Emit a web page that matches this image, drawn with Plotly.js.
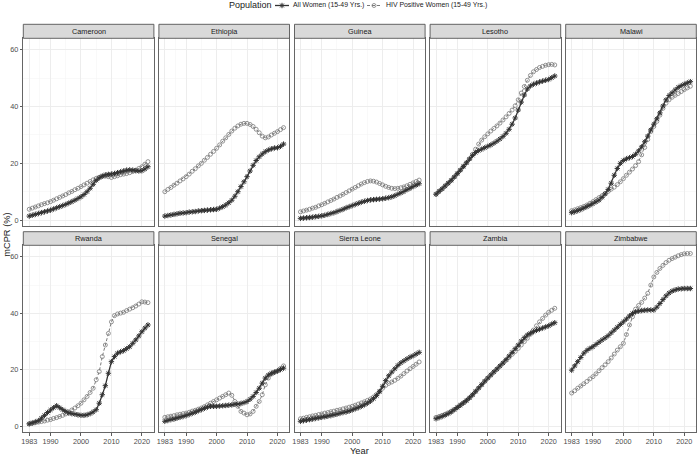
<!DOCTYPE html>
<html>
<head>
<meta charset="utf-8">
<script src="https://cdn.plot.ly/plotly-3.0.1.min.js"></script>
<style>html,body{margin:0;padding:0;background:#fff;}#chart{width:700px;height:455px;}</style>
</head>
<body>
<div id="chart"></div>
<script>
const years = [1983,1984,1985,1986,1987,1988,1989,1990,1991,1992,1993,1994,1995,1996,1997,1998,1999,2000,2001,2002,2003,2004,2005,2006,2007,2008,2009,2010,2011,2012,2013,2014,2015,2016,2017,2018,2019,2020,2021,2022];
const countries = ["Cameroon","Ethiopia","Guinea","Lesotho","Malawi","Rwanda","Senegal","Sierra Leone","Zambia","Zimbabwe"];
const seriesNames = ["All Women (15-49 Yrs.)","HIV Positive Women (15-49 Yrs.)"];
const legendTitle = "Population";
const xTickVals = [1983,1990,2000,2010,2020];
const xMinorVals = [1986.5,1995,2005,2015];
const yTickVals = [0,20,40,60];
const yMinorVals = [10,30,50];

const allCameroon = [1.4,1.7,2.0,2.3,2.6,2.9,3.2,3.5,3.9,4.3,4.7,5.1,5.5,6.0,6.5,7.0,7.6,8.2,9.0,10.0,11.2,12.6,14.0,14.9,15.5,15.9,16.1,16.2,16.4,16.7,17.0,17.3,17.6,17.7,17.6,17.4,17.3,17.4,18.0,18.8];
const hivCameroon = [3.8,4.2,4.6,5.0,5.4,5.8,6.1,6.5,7.0,7.5,8.0,8.5,9.0,9.6,10.1,10.7,11.2,11.8,12.4,13.0,13.6,14.2,14.7,15.1,15.4,15.5,15.3,15.0,15.3,15.6,16.0,16.2,16.4,16.7,17.1,17.6,18.2,18.8,19.7,20.6];
const allEthiopia = [1.4,1.6,1.8,2.0,2.2,2.4,2.5,2.6,2.8,2.9,3.0,3.2,3.3,3.4,3.5,3.6,3.7,3.8,4.2,4.7,5.3,6.1,7.0,8.4,10.0,11.8,13.5,15.3,17.3,19.3,21.0,22.3,23.3,24.1,24.7,25.1,25.4,25.5,26.0,26.8];
const hivEthiopia = [10.0,10.8,11.5,12.3,13.0,13.8,14.5,15.3,16.2,17.2,18.1,19.1,20.0,21.1,22.1,23.2,24.2,25.3,26.5,27.8,29.0,30.2,31.4,32.4,33.2,33.8,34.1,34.1,33.7,33.0,32.0,30.8,29.6,29.0,29.3,30.0,30.6,31.2,31.9,32.6];
const allGuinea = [0.6,0.7,0.8,0.9,1.0,1.2,1.3,1.5,1.7,2.0,2.3,2.6,3.0,3.4,3.8,4.3,4.7,5.1,5.5,5.9,6.3,6.6,6.9,7.1,7.2,7.3,7.4,7.5,7.7,7.9,8.2,8.6,9.1,9.6,10.1,10.7,11.2,11.8,12.3,12.8];
const hivGuinea = [2.9,3.2,3.5,3.8,4.2,4.5,5.0,5.4,5.9,6.4,6.9,7.4,8.0,8.5,9.1,9.7,10.3,10.9,11.5,12.1,12.7,13.2,13.6,13.8,13.7,13.4,12.9,12.4,11.9,11.5,11.2,11.1,11.2,11.4,11.7,12.1,12.6,13.1,13.6,14.1];
const allLesotho = [9.1,10.1,11.0,12.0,13.0,14.0,15.2,16.4,17.6,18.9,20.2,21.5,22.8,23.8,24.5,25.0,25.5,26.0,26.5,27.1,27.8,28.6,29.5,30.6,32.0,33.8,36.0,38.8,41.6,44.1,46.2,47.3,47.9,48.3,48.7,49.0,49.3,49.6,50.2,50.8];
const hivLesotho = [9.1,10.1,11.0,12.0,13.0,14.0,15.2,16.4,17.6,18.9,20.2,21.6,23.2,25.0,26.8,28.2,29.4,30.4,31.4,32.3,33.2,34.2,35.3,36.4,37.6,38.8,40.3,42.4,44.8,47.1,49.3,51.0,52.3,53.1,53.8,54.2,54.6,54.8,54.9,54.7];
const allMalawi = [2.6,2.9,3.3,3.7,4.2,4.7,5.2,5.8,6.4,7.0,8.0,9.2,10.8,13.0,15.8,18.2,20.0,21.0,21.6,22.0,22.4,23.2,24.4,25.8,27.6,29.6,31.8,33.8,35.7,37.8,40.2,42.4,43.9,44.9,45.9,46.8,47.4,47.9,48.4,48.8];
const hivMalawi = [3.3,3.6,4.0,4.4,4.8,5.3,5.9,6.5,7.2,7.9,8.6,9.4,10.1,10.9,11.6,12.5,13.5,14.6,15.8,16.9,18.0,19.2,20.6,23.0,25.6,28.4,31.2,33.0,34.8,37.0,39.4,41.2,42.4,43.3,44.0,44.6,45.3,46.0,46.6,47.2];
const allRwanda = [0.9,1.2,1.6,2.0,2.9,3.9,4.9,5.8,6.6,7.3,6.6,5.9,5.3,4.7,4.5,4.3,4.1,3.9,3.9,4.1,4.5,5.1,5.9,8.2,11.2,14.4,18.8,22.9,24.7,25.9,26.4,26.8,27.5,28.2,29.4,30.6,32.0,33.5,34.8,35.9];
const hivRwanda = [0.9,1.1,1.3,1.5,1.7,1.9,2.2,2.4,2.8,3.1,3.5,3.9,4.4,5.1,5.8,6.5,7.3,8.2,9.4,10.6,12.0,13.5,16.5,19.4,24.7,28.8,32.9,37.0,39.2,39.8,40.1,40.4,41.0,41.5,42.0,42.6,43.3,44.1,44.0,43.8];
const allSenegal = [1.8,2.1,2.4,2.6,2.9,3.2,3.5,3.8,4.2,4.6,5.0,5.5,5.9,6.4,6.8,7.1,7.1,7.1,7.2,7.3,7.4,7.5,7.6,7.8,7.9,8.1,8.4,8.8,9.6,10.6,12.0,13.5,15.3,17.1,18.2,18.8,19.2,19.6,20.1,20.6];
const hivSenegal = [3.2,3.4,3.6,3.8,4.1,4.3,4.5,4.7,5.0,5.4,5.7,6.1,6.5,7.0,7.6,8.2,8.8,9.4,10.0,10.6,11.2,11.8,11.0,8.8,7.1,5.3,4.7,4.1,4.4,5.3,7.1,8.8,11.2,14.7,17.1,18.5,19.1,19.6,20.5,21.4];
const allSierraLeone = [1.8,2.0,2.2,2.4,2.6,2.8,3.0,3.2,3.4,3.6,3.8,4.1,4.3,4.6,4.9,5.1,5.4,5.8,6.2,6.6,7.1,7.6,8.2,8.9,9.8,10.9,12.3,14.2,16.2,17.9,19.2,20.4,21.6,22.5,23.2,23.9,24.5,25.0,25.6,26.2];
const hivSierraLeone = [2.7,2.9,3.2,3.4,3.7,3.9,4.2,4.4,4.7,4.9,5.2,5.4,5.7,5.9,6.2,6.5,6.8,7.1,7.5,7.9,8.3,8.7,9.2,9.7,10.4,11.3,12.4,13.5,14.5,15.2,15.7,16.3,17.0,17.8,18.7,19.6,20.4,21.2,22.0,22.8];
const allZambia = [2.7,3.1,3.5,4.0,4.5,5.1,5.9,6.7,7.5,8.3,9.1,10.1,11.2,12.4,13.6,14.8,16.0,17.1,18.2,19.3,20.3,21.4,22.4,23.6,24.9,26.2,27.5,28.8,30.2,31.4,32.4,33.0,33.5,34.0,34.4,34.8,35.2,35.6,36.2,36.7];
const hivZambia = [3.2,3.5,3.9,4.3,4.8,5.4,6.0,6.7,7.5,8.3,9.2,10.1,11.1,12.3,13.5,14.7,15.9,17.1,18.2,19.2,20.2,21.3,22.4,23.4,24.4,25.5,26.5,27.6,28.8,30.0,31.2,32.6,34.1,35.6,37.0,38.2,39.4,40.4,41.1,41.8];
const allZimbabwe = [19.9,21.4,22.9,24.4,25.9,26.9,27.6,28.2,29.0,29.8,30.6,31.3,32.1,33.1,34.1,35.1,36.1,37.0,38.0,39.1,40.0,40.5,40.8,41.0,41.1,41.2,41.2,41.2,42.2,43.5,44.9,46.2,47.2,47.9,48.3,48.6,48.7,48.8,48.8,48.8];
const hivZimbabwe = [11.8,12.6,13.5,14.3,15.1,15.9,16.8,17.6,18.6,19.7,20.8,21.8,22.9,24.2,25.6,27.0,28.2,29.4,32.5,35.9,38.8,41.5,42.8,43.9,45.4,47.1,50.0,52.9,54.5,55.9,57.0,58.0,58.8,59.4,59.9,60.4,60.8,61.1,61.2,61.2];

const allWomen = [allCameroon,allEthiopia,allGuinea,allLesotho,allMalawi,allRwanda,allSenegal,allSierraLeone,allZambia,allZimbabwe];
const hivWomen = [hivCameroon,hivEthiopia,hivGuinea,hivLesotho,hivMalawi,hivRwanda,hivSenegal,hivSierraLeone,hivZambia,hivZimbabwe];

const W = 700, H = 455;
const FONT = "Liberation Sans, Arial, Helvetica, sans-serif";
const panelLeft = 23.3, panelW = 130.6, panelStep = 135.6;
const rowPlot = [[38.3,226],[245.3,432.3]];
const rowStrip = [[24.3,38.3],[231.7,245.3]];
const py = v => 1 - v / H;

const styleAll = {line: {color: '#333333', width: 1.3},
  marker: {symbol: 'asterisk-open', size: 4.5, color: '#333333', line: {color: '#333333', width: 1}}};
const styleHiv = {line: {color: '#7a7a7a', width: 1, dash: '3px,2px'},
  marker: {symbol: 'circle-open', size: 4, color: '#7a7a7a', line: {color: '#7a7a7a', width: 0.8}}};
const clone = o => JSON.parse(JSON.stringify(o));

const traces = [];
const layout = {
  width: W, height: H,
  margin: {l:0, r:0, t:0, b:0},
  paper_bgcolor: '#ffffff',
  plot_bgcolor: 'rgba(0,0,0,0)',
  font: {family: FONT, color: '#1a1a1a'},
  showlegend: false,
  shapes: [], annotations: []
};

countries.forEach((c, i) => {
  const row = i < 5 ? 0 : 1, col = i % 5;
  const ax = i === 0 ? '' : String(i + 1);
  const x0 = panelLeft + panelStep * col, x1 = x0 + panelW;
  const xd = [x0 / W, x1 / W];
  const yd = [py(rowPlot[row][1]), py(rowPlot[row][0])];
  layout['xaxis' + ax] = {
    domain: xd, anchor: 'y' + ax, range: [1981.05, 2023.95],
    tickmode: 'array', tickvals: xTickVals, ticktext: xTickVals.map(String),
    showticklabels: row === 1, ticks: row === 1 ? 'outside' : '', ticklen: 2.5, tickwidth: 0.8, tickcolor: '#333333',
    tickfont: {size: 7.3, color: '#4d4d4d', family: FONT},
    showgrid: true, gridcolor: '#ebebeb', gridwidth: 0.9,
    minor: {tickmode: 'array', tickvals: xMinorVals, showgrid: true, gridcolor: '#f4f4f4', gridwidth: 0.5, ticks: ''},
    zeroline: false, showline: true, mirror: true, linecolor: '#555555', linewidth: 0.9,
    fixedrange: true
  };
  layout['yaxis' + ax] = {
    domain: yd, anchor: 'x' + ax, range: [-2.1, 64.1],
    tickmode: 'array', tickvals: yTickVals, ticktext: yTickVals.map(String),
    showticklabels: col === 0, ticks: col === 0 ? 'outside' : '', ticklen: 2.5, tickwidth: 0.8, tickcolor: '#333333',
    tickfont: {size: 7.3, color: '#4d4d4d', family: FONT},
    showgrid: true, gridcolor: '#ebebeb', gridwidth: 0.9,
    minor: {tickmode: 'array', tickvals: yMinorVals, showgrid: true, gridcolor: '#f4f4f4', gridwidth: 0.5, ticks: ''},
    zeroline: false, showline: true, mirror: true, linecolor: '#555555', linewidth: 0.9,
    fixedrange: true
  };
  layout.shapes.push({
    type: 'rect', xref: 'paper', yref: 'paper',
    x0: xd[0], x1: xd[1], y0: py(rowStrip[row][1]), y1: py(rowStrip[row][0]),
    fillcolor: '#d9d9d9', line: {color: '#555555', width: 0.9}, layer: 'above'
  });
  layout.annotations.push({
    xref: 'paper', yref: 'paper', x: (xd[0] + xd[1]) / 2, y: (py(rowStrip[row][1]) + py(rowStrip[row][0])) / 2,
    text: c, showarrow: false, xanchor: 'center', yanchor: 'middle',
    font: {size: 7.3, color: '#1a1a1a', family: FONT}
  });
  traces.push(Object.assign({
    type: 'scatter', mode: 'lines+markers', x: years, y: hivWomen[i],
    xaxis: 'x' + ax, yaxis: 'y' + ax, name: seriesNames[1]
  }, clone(styleHiv)));
  traces.push(Object.assign({
    type: 'scatter', mode: 'lines+markers', x: years, y: allWomen[i],
    xaxis: 'x' + ax, yaxis: 'y' + ax, name: seriesNames[0]
  }, clone(styleAll)));
});

// Hand-drawn legend on a transparent pixel-space overlay axis (matches ggplot's compact key layout)
layout.xaxis11 = {domain: [0, 1], range: [0, W], visible: false, showgrid: false, zeroline: false, fixedrange: true, anchor: 'y11'};
layout.yaxis11 = {domain: [0, 1], range: [H, 0], visible: false, showgrid: false, zeroline: false, fixedrange: true, anchor: 'x11'};
const legY = 5.5;
const legKeys = [[275, 289], [367, 381]];
const legTextX = [291, 384];
layout.annotations.push({
  xref: 'paper', yref: 'paper', x: 226.5 / W, y: py(legY), text: legendTitle, showarrow: false,
  xanchor: 'left', yanchor: 'middle', font: {size: 9, color: '#1a1a1a', family: FONT}
});
[styleAll, styleHiv].forEach((st, k) => {
  traces.push({
    type: 'scatter', mode: 'lines', x: legKeys[k], y: [legY, legY],
    xaxis: 'x11', yaxis: 'y11', hoverinfo: 'skip', name: seriesNames[k], line: clone(st.line)
  });
  traces.push({
    type: 'scatter', mode: 'markers', x: [(legKeys[k][0] + legKeys[k][1]) / 2], y: [legY],
    xaxis: 'x11', yaxis: 'y11', hoverinfo: 'skip', name: seriesNames[k], marker: clone(st.marker)
  });
  layout.annotations.push({
    xref: 'paper', yref: 'paper', x: legTextX[k] / W, y: py(legY), text: seriesNames[k], showarrow: false,
    xanchor: 'left', yanchor: 'middle', font: {size: 6.9, color: '#1a1a1a', family: FONT}
  });
});

layout.annotations.push({
  xref: 'paper', yref: 'paper', x: 359.7 / W, y: py(450.5), text: 'Year', showarrow: false,
  xanchor: 'center', yanchor: 'middle', font: {size: 9.3, color: '#1a1a1a', family: FONT}
});
layout.annotations.push({
  xref: 'paper', yref: 'paper', x: 7.5 / W, y: py(235.3), text: 'mCPR (%)', showarrow: false, textangle: -90,
  xanchor: 'center', yanchor: 'middle', font: {size: 9.3, color: '#1a1a1a', family: FONT}
});

Plotly.newPlot('chart', traces, layout, {displayModeBar: false, staticPlot: true});
</script>
</body>
</html>
